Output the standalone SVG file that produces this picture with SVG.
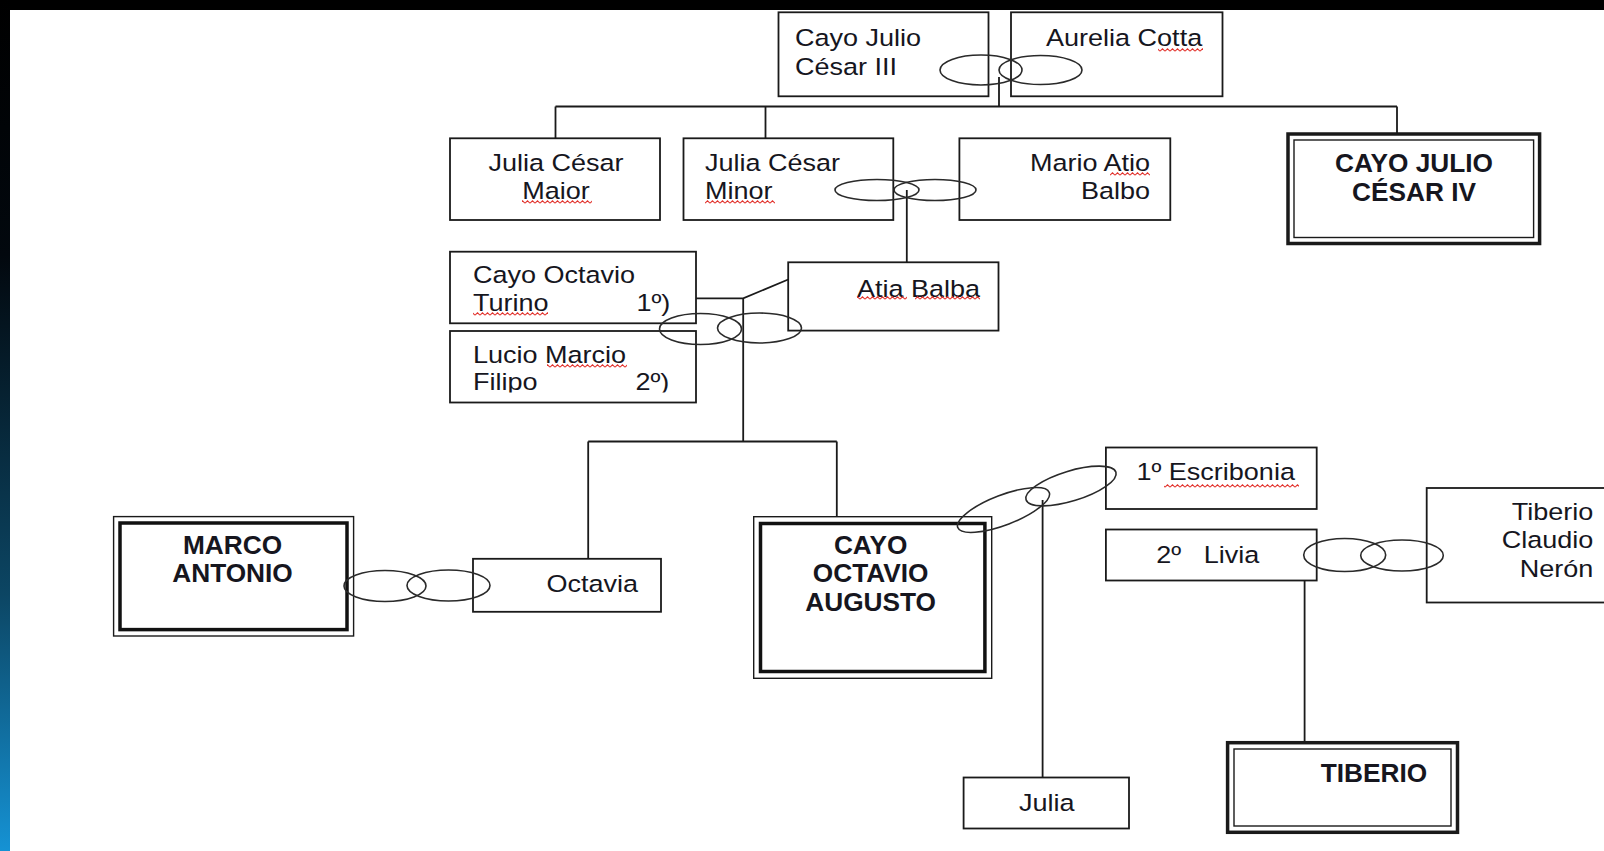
<svg xmlns="http://www.w3.org/2000/svg" width="1604" height="851" viewBox="0 0 1604 851">
<defs>
<linearGradient id="lg" x1="0" y1="0" x2="0" y2="1">
<stop offset="0" stop-color="#000"/>
<stop offset="0.3" stop-color="#02080e"/>
<stop offset="0.7" stop-color="#0c4664"/>
<stop offset="1" stop-color="#1592d4"/>
</linearGradient>
<pattern id="sq" width="5" height="4" patternUnits="userSpaceOnUse">
<path d="M0 3.2 L2.5 0.8 L5 3.2" fill="none" stroke="#e2312b" stroke-width="1.1"/>
</pattern>
<clipPath id="clipLucio"><rect x="440" y="330" width="270" height="62.5"/></clipPath>
</defs>
<style>
.box{fill:#fff;stroke:#1a1a1a;stroke-width:1.8}
.thin{fill:#fff;stroke:#1a1a1a;stroke-width:1.4}
.thick{fill:none;stroke:#111;stroke-width:3.5}
.thinI{fill:none;stroke:#1a1a1a;stroke-width:1.4}
.ln{fill:none;stroke:#1a1a1a;stroke-width:1.8}
.ring{fill:none;stroke:#2a2a2a;stroke-width:1.6}
.t{font-family:"Liberation Sans",Arial,sans-serif;font-size:23.5px;fill:#16161e}
.b{font-family:"Liberation Sans",Arial,sans-serif;font-size:25px;font-weight:bold;fill:#16161e}
.m{text-anchor:middle}
.e{text-anchor:end}
.sq{fill:url(#sq)}
</style>
<rect x="0" y="0" width="1604" height="851" fill="#fff"/>
<rect x="0" y="0" width="1604" height="10" fill="#000"/>
<rect x="0" y="0" width="10" height="851" fill="url(#lg)"/>

<g id="nodes">
<g id="n-cayo-julio-iii">
<rect class="box" x="778.5" y="12.3" width="210" height="84"/>
<text class="t" transform="translate(795 0) scale(1.15 1)"><tspan x="0" y="45.7">Cayo Julio</tspan><tspan x="0" y="75">César III</tspan></text>
</g>
<g id="n-aurelia-cotta">
<rect class="box" x="1011" y="12.3" width="211.5" height="84"/>
<text class="t" transform="translate(1046 45.7) scale(1.15 1)">Aurelia Cotta</text>
<rect class="sq" x="1158" y="48" width="45" height="4"/>
</g>
<g id="n-julia-maior">
<rect class="box" x="450" y="138.3" width="210" height="81.7"/>
<text class="t m" transform="translate(556 0) scale(1.15 1)"><tspan x="0" y="171">Julia César</tspan><tspan x="0" y="199.5">Maior</tspan></text>
<rect class="sq" x="522" y="200" width="70" height="4"/>
</g>
<g id="n-julia-minor">
<rect class="box" x="683.5" y="138.3" width="209.8" height="81.7"/>
<text class="t" transform="translate(705 0) scale(1.15 1)"><tspan x="0" y="171">Julia César</tspan><tspan x="0" y="199.5">Minor</tspan></text>
<rect class="sq" x="705" y="200" width="70" height="4"/>
</g>
<g id="n-mario-atio-balbo">
<rect class="box" x="959.4" y="138.3" width="210.9" height="81.7"/>
<text class="t e" transform="translate(1150 0) scale(1.15 1)"><tspan x="0" y="171">Mario Atio</tspan><tspan x="0" y="199.5">Balbo</tspan></text>
<rect class="sq" x="1110" y="172" width="40" height="4"/>
</g>
<g id="n-cayo-julio-cesar-iv">
<rect class="box" x="1288" y="134" width="251.6" height="109.5" style="stroke-width:3.5"/>
<rect class="thinI" x="1294" y="140" width="239.6" height="97.5"/>
<text class="b m" transform="translate(1414 0) scale(1.05 1)"><tspan x="0" y="171.7">CAYO JULIO</tspan><tspan x="0" y="201">CÉSAR IV</tspan></text>
</g>
<g id="n-cayo-octavio-turino">
<rect class="box" x="450" y="251.7" width="246" height="71.6"/>
<text class="t" transform="translate(473 0) scale(1.15 1)"><tspan x="0" y="283">Cayo Octavio</tspan><tspan x="0" y="311">Turino</tspan><tspan x="142.1" y="311">1º)</tspan></text>
<rect class="sq" x="473" y="312" width="75" height="4"/>
</g>
<g id="n-lucio-marcio-filipo">
<rect class="box" x="450" y="331" width="246" height="71.5"/>
<g clip-path="url(#clipLucio)">
<text class="t" transform="translate(473 0) scale(1.15 1)"><tspan x="0" y="363.5">Lucio Marcio</tspan><tspan x="0" y="390.5">Filipo</tspan><tspan x="141.2" y="390.5">2º)</tspan></text>
</g>
<rect class="sq" x="547" y="364" width="80" height="4"/>
</g>
<g id="n-atia-balba">
<rect class="box" x="788.2" y="262.3" width="210.3" height="68.3"/>
<text class="t" transform="translate(857 296.5) scale(1.15 1)">Atia Balba</text>
<rect class="sq" x="857" y="296" width="50" height="4"/>
<rect class="sq" x="915" y="296" width="65" height="4"/>
</g>
<g id="n-marco-antonio">
<rect class="thin" x="113.6" y="516.6" width="240" height="119.4"/>
<rect class="thick" x="120" y="523" width="227" height="106.6"/>
<text class="b m" transform="translate(232.5 0) scale(1.05 1)"><tspan x="0" y="554">MARCO</tspan><tspan x="0" y="582.5">ANTONIO</tspan></text>
</g>
<g id="n-octavia">
<rect class="box" x="473" y="558.8" width="188" height="53"/>
<text class="t" transform="translate(546.4 592) scale(1.15 1)">Octavia</text>
</g>
<g id="n-cayo-octavio-augusto">
<rect class="thin" x="753.7" y="516.7" width="238" height="161.6"/>
<rect class="thick" x="760.5" y="523.5" width="224.4" height="148"/>
<text class="b m" transform="translate(870.6 0) scale(1.05 1)"><tspan x="0" y="554">CAYO</tspan><tspan x="0" y="582.5">OCTAVIO</tspan><tspan x="0" y="611">AUGUSTO</tspan></text>
</g>
<g id="n-escribonia">
<rect class="box" x="1105.9" y="447.5" width="210.8" height="61.5"/>
<text class="t" transform="translate(1136.4 480) scale(1.15 1)">1º Escribonia</text>
<rect class="sq" x="1164" y="484" width="135" height="4"/>
</g>
<g id="n-livia">
<rect class="box" x="1105.9" y="529.5" width="210.8" height="51"/>
<text class="t" transform="translate(1156.3 562.7) scale(1.15 1)" xml:space="preserve" style="white-space:pre">2º   Livia</text>
</g>
<g id="n-tiberio-claudio-neron">
<rect class="box" x="1426.7" y="488" width="200" height="114.5"/>
<text class="t e" transform="translate(1593.3 0) scale(1.15 1)"><tspan x="0" y="520">Tiberio</tspan><tspan x="0" y="548.5">Claudio</tspan><tspan x="0" y="577.5">Nerón</tspan></text>
</g>
<g id="n-julia">
<rect class="box" x="963.6" y="777.5" width="165.4" height="51"/>
<text class="t m" transform="translate(1046.7 810.5) scale(1.15 1)">Julia</text>
</g>
<g id="n-tiberio">
<rect class="box" x="1227.6" y="742.7" width="229.9" height="89.6" style="stroke-width:3.5"/>
<rect class="thinI" x="1234" y="749" width="217" height="77"/>
<text class="b" transform="translate(1320.7 782) scale(1.05 1)">TIBERIO</text>
</g>
</g>

<g id="connectors">
<path class="ln" d="M999 77 V106.5 M555.5 106.5 H1397 M555.5 106.5 V138.3 M765.5 106.5 V138.3 M1397 106.5 V134"/>
<path class="ln" d="M906.8 190 V262.3"/>
<path class="ln" d="M696 298.3 H743.2 L788.2 279.5 M743.2 298.3 V441.5 M588.2 441.5 H836.8 M588.2 441.5 V558.8 M836.8 441.5 V516.7"/>
<path class="ln" d="M1042.6 500 V777.5"/>
<path class="ln" d="M1304.6 580.5 V742.7"/>
<ellipse class="ring" cx="981" cy="70" rx="41" ry="15"/>
<ellipse class="ring" cx="1040.5" cy="70" rx="41.5" ry="14.5"/>
<ellipse class="ring" cx="877" cy="190" rx="42" ry="10.5"/>
<ellipse class="ring" cx="935" cy="190" rx="41" ry="10.5"/>
<ellipse class="ring" cx="700.5" cy="329" rx="41" ry="15.5"/>
<ellipse class="ring" cx="759.5" cy="328" rx="42" ry="15"/>
<ellipse class="ring" cx="385" cy="586" rx="41" ry="15.5"/>
<ellipse class="ring" cx="448.5" cy="585.5" rx="41.5" ry="15.5"/>
<ellipse class="ring" cx="1003.5" cy="510" rx="49" ry="15" transform="rotate(-21 1003.5 510)"/>
<ellipse class="ring" cx="1071" cy="486" rx="47" ry="15" transform="rotate(-17 1071 486)"/>
<ellipse class="ring" cx="1344.7" cy="555" rx="41" ry="16.5"/>
<ellipse class="ring" cx="1402" cy="555.5" rx="41.3" ry="15.5"/>
</g>
</svg>
